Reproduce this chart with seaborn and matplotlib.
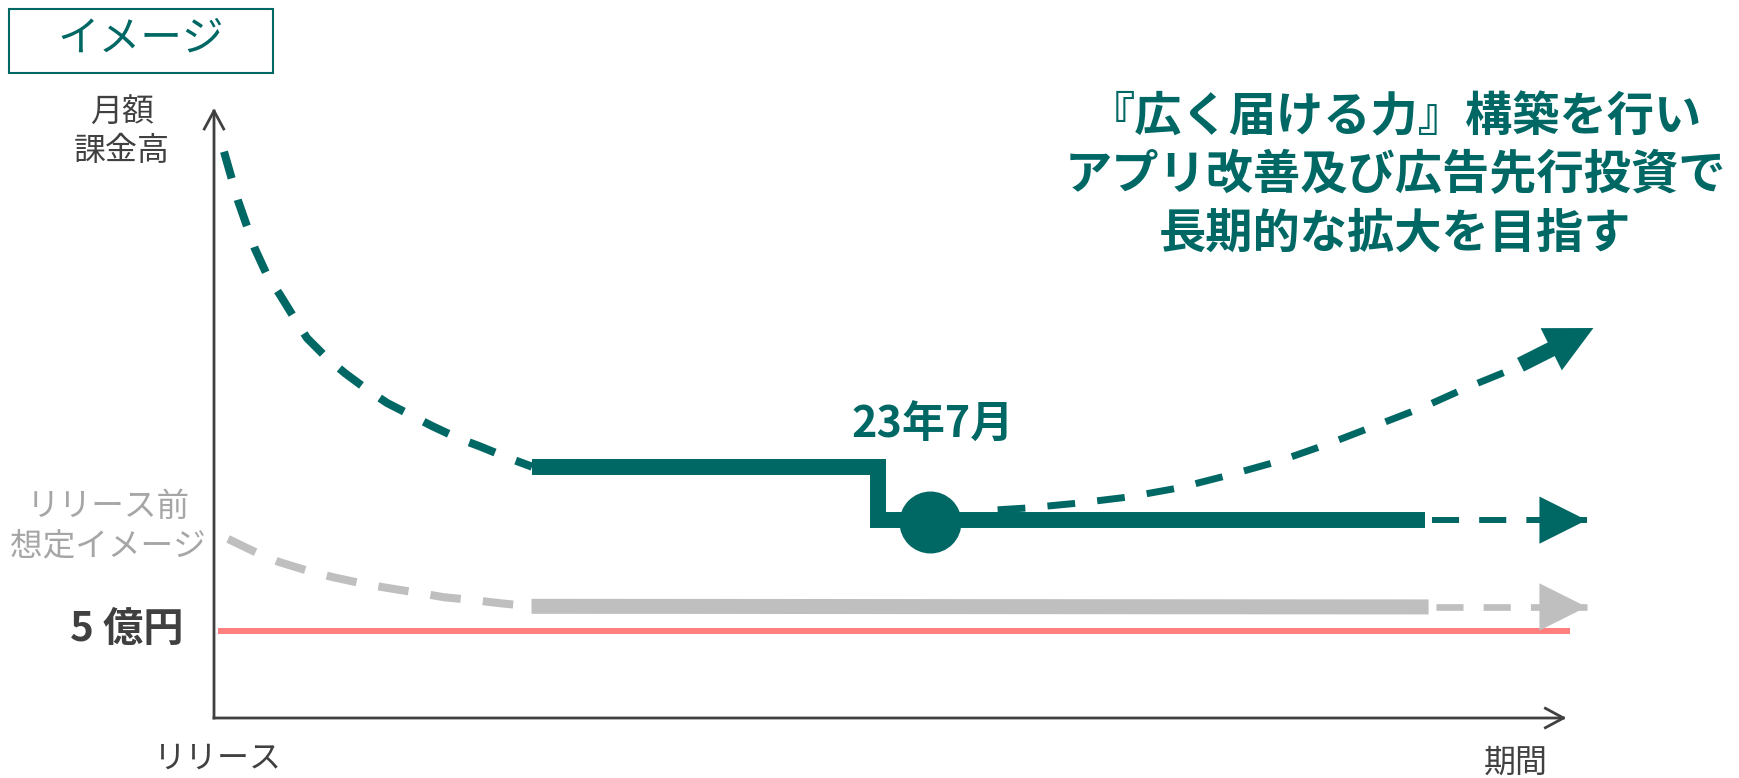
import matplotlib
matplotlib.use("Agg")
import matplotlib.pyplot as plt
from matplotlib.patches import Rectangle, ArrowStyle
import seaborn as sns

# ---------------- data (conceptual units: x = time 0..100, y = monthly billing 0..100) -------------
decline_x = [0.74, 1.78, 3.03, 3.92, 4.89, 6.00, 6.88, 8.36, 9.70, 11.40, 12.81, 14.66, 16.14, 18.06, 19.62, 21.61, 23.54]
decline_y = [93.3, 85.2, 77.3, 73.0, 69.7, 65.7, 62.6, 59.3, 56.8, 54.0, 51.9, 49.8, 48.1, 46.1, 44.8, 43.0, 41.4]

actual_x = [23.54, 49.15, 49.15, 89.6]
actual_y = [41.4, 41.4, 32.6, 32.6]

release_x = [53.0]
release_y = [32.3]

flat_fc_x = [89.6, 101.6]
flat_fc_y = [32.6, 32.6]

growth_x = [58.0, 60.2, 63.95, 67.65, 71.4, 75.1, 78.8, 82.4, 85.9, 89.5, 92.7, 95.9, 96.7]
growth_y = [34.3, 34.6, 35.4, 36.4, 37.9, 40.0, 42.3, 45.1, 48.1, 51.2, 54.4, 57.3, 58.2]
growth_tip = (102.1, 64.25)

pre_curve_x = [1.04, 3.18, 4.81, 7.03, 8.81, 11.1, 12.9, 15.2, 17.0, 19.3, 21.2, 23.5]
pre_curve_y = [29.5, 27.2, 25.7, 24.2, 23.2, 22.1, 21.4, 20.6, 19.9, 19.4, 18.9, 18.4]
pre_flat_x = [23.5, 89.9]
pre_flat_y = [18.4, 18.3]
pre_fc_x = [89.9, 101.6]
pre_fc_y = [18.3, 18.3]

target_x = [0.3, 100.4]
target_y = [14.4, 14.4]

x_axis_end = 100.1
y_axis_end = 100.5

title_text = "イメージ"
y_label = ["月額", "課金高"]
pre_label = ["リリース前", "想定イメージ"]
target_label = "5 億円"
x_start_label = "リリース"
x_label = "期間"
event_label = "23年7月"
message = ["『広く届ける力』構築を行い", "アプリ改善及び広告先行投資で", "長期的な拡大を目指す"]

# ---------------- style ----------------
TEAL = "#006864"
GRAY = "#BFBFBF"
RED = "#FF7F7F"
DARK = "#404040"
LIGHT = "#A6A6A6"

sns.set_style("white")
plt.rcParams['font.family'] = ['Noto Sans CJK JP', 'DejaVu Sans']
plt.rcParams['lines.scale_dashes'] = False

W, H = 1740, 778
fig = plt.figure(figsize=(W / 100, H / 100), dpi=100)
ax = fig.add_axes([0, 0, 1, 1])
ax.set_xlim(-15.84, 112.95)
ax.set_ylim(-9.885, 118.29)
ax.axis('off')


def lp(x, y, **kw):
    sns.lineplot(x=x, y=y, ax=ax, estimator=None, sort=False, legend=False, **kw)


def head(tip, tail, color, length, halfwidth, z=4):
    ax.annotate("", xy=tip, xytext=tail,
                arrowprops=dict(arrowstyle=ArrowStyle("-|>", head_length=length, head_width=halfwidth),
                                mutation_scale=1, lw=0, color=color, shrinkA=0, shrinkB=0),
                zorder=z)


# axes with open arrow heads
for tip in [(x_axis_end, 0), (0, y_axis_end)]:
    ax.annotate("", xy=tip, xytext=(0, 0),
                arrowprops=dict(arrowstyle=ArrowStyle("->", head_length=13, head_width=7),
                                mutation_scale=1, lw=2, color=DARK, shrinkA=0, shrinkB=0,
                                capstyle='projecting'),
                zorder=1)

# target line
lp(target_x, target_y, color=RED, linewidth=4.3, solid_capstyle='butt', zorder=2)

# pre-release image (gray)
lp(pre_curve_x, pre_curve_y, color=GRAY, linewidth=5.8, linestyle=(0, (22, 16)), zorder=2)
lp(pre_flat_x, pre_flat_y, color=GRAY, linewidth=10.8, solid_capstyle='butt', zorder=2)
lp(pre_fc_x, pre_fc_y, color=GRAY, linewidth=4.8, linestyle=(29, (19.5, 14.5)), zorder=2)
head((pre_fc_x[-1], pre_fc_y[-1]), (pre_fc_x[0], pre_fc_y[0]), GRAY, 34, 17)

# actual (teal)
lp(decline_x, decline_y, color=TEAL, linewidth=5.8, linestyle=(0, (20, 16)), zorder=3)
lp(actual_x, actual_y, color=TEAL, linewidth=11.5, solid_capstyle='butt',
   solid_joinstyle='miter', zorder=3)
lp(flat_fc_x, flat_fc_y, color=TEAL, linewidth=4.3, linestyle=(29, (19.5, 14.5)), zorder=3)
head((flat_fc_x[-1], flat_fc_y[-1]), (flat_fc_x[0], flat_fc_y[0]), TEAL, 34, 17)

lp(growth_x, growth_y, color=TEAL, linewidth=5.0, linestyle=(0, (20, 16)), zorder=3)
ax.annotate("", xy=growth_tip, xytext=(growth_x[-1], growth_y[-1]),
            arrowprops=dict(arrowstyle=ArrowStyle("simple", head_length=34, head_width=34, tail_width=11),
                            mutation_scale=1, lw=0, color=TEAL, shrinkA=0, shrinkB=0),
            zorder=4)

sns.scatterplot(x=release_x, y=release_y, s=1990, color=TEAL, linewidth=0, ax=ax, legend=False, zorder=5)


# ---------------- texts ----------------
def ftext(px, py, s, **kw):
    fig.text(px / W, 1 - py / H, s, ha='center', va='center', **kw)


fig.add_artist(Rectangle((9 / W, 1 - 73 / H), 264 / W, 64 / H, transform=fig.transFigure,
                         fill=False, ec=TEAL, lw=1.5))
ftext(141, 39, title_text, fontsize=30, color=TEAL)

ftext(122, 113, y_label[0], fontsize=23, color=DARK)
ftext(122, 151, y_label[1], fontsize=23, color=DARK)

ftext(108, 507, pre_label[0], fontsize=23.5, color=LIGHT)
ftext(108, 546, pre_label[1], fontsize=23.5, color=LIGHT)

ftext(127, 629, target_label, fontsize=29, color=DARK, fontweight='bold')
ftext(218, 759, x_start_label, fontsize=23, color=DARK)
ftext(1516, 763, x_label, fontsize=23, color=DARK)

ftext(933, 425, event_label, fontsize=31, color=TEAL, fontweight='bold')

for i, line in enumerate(message):
    ftext(1395, 117 + 58.5 * i, line, fontsize=34, color=TEAL, fontweight='bold')

fig.savefig("out.png", dpi=100)
